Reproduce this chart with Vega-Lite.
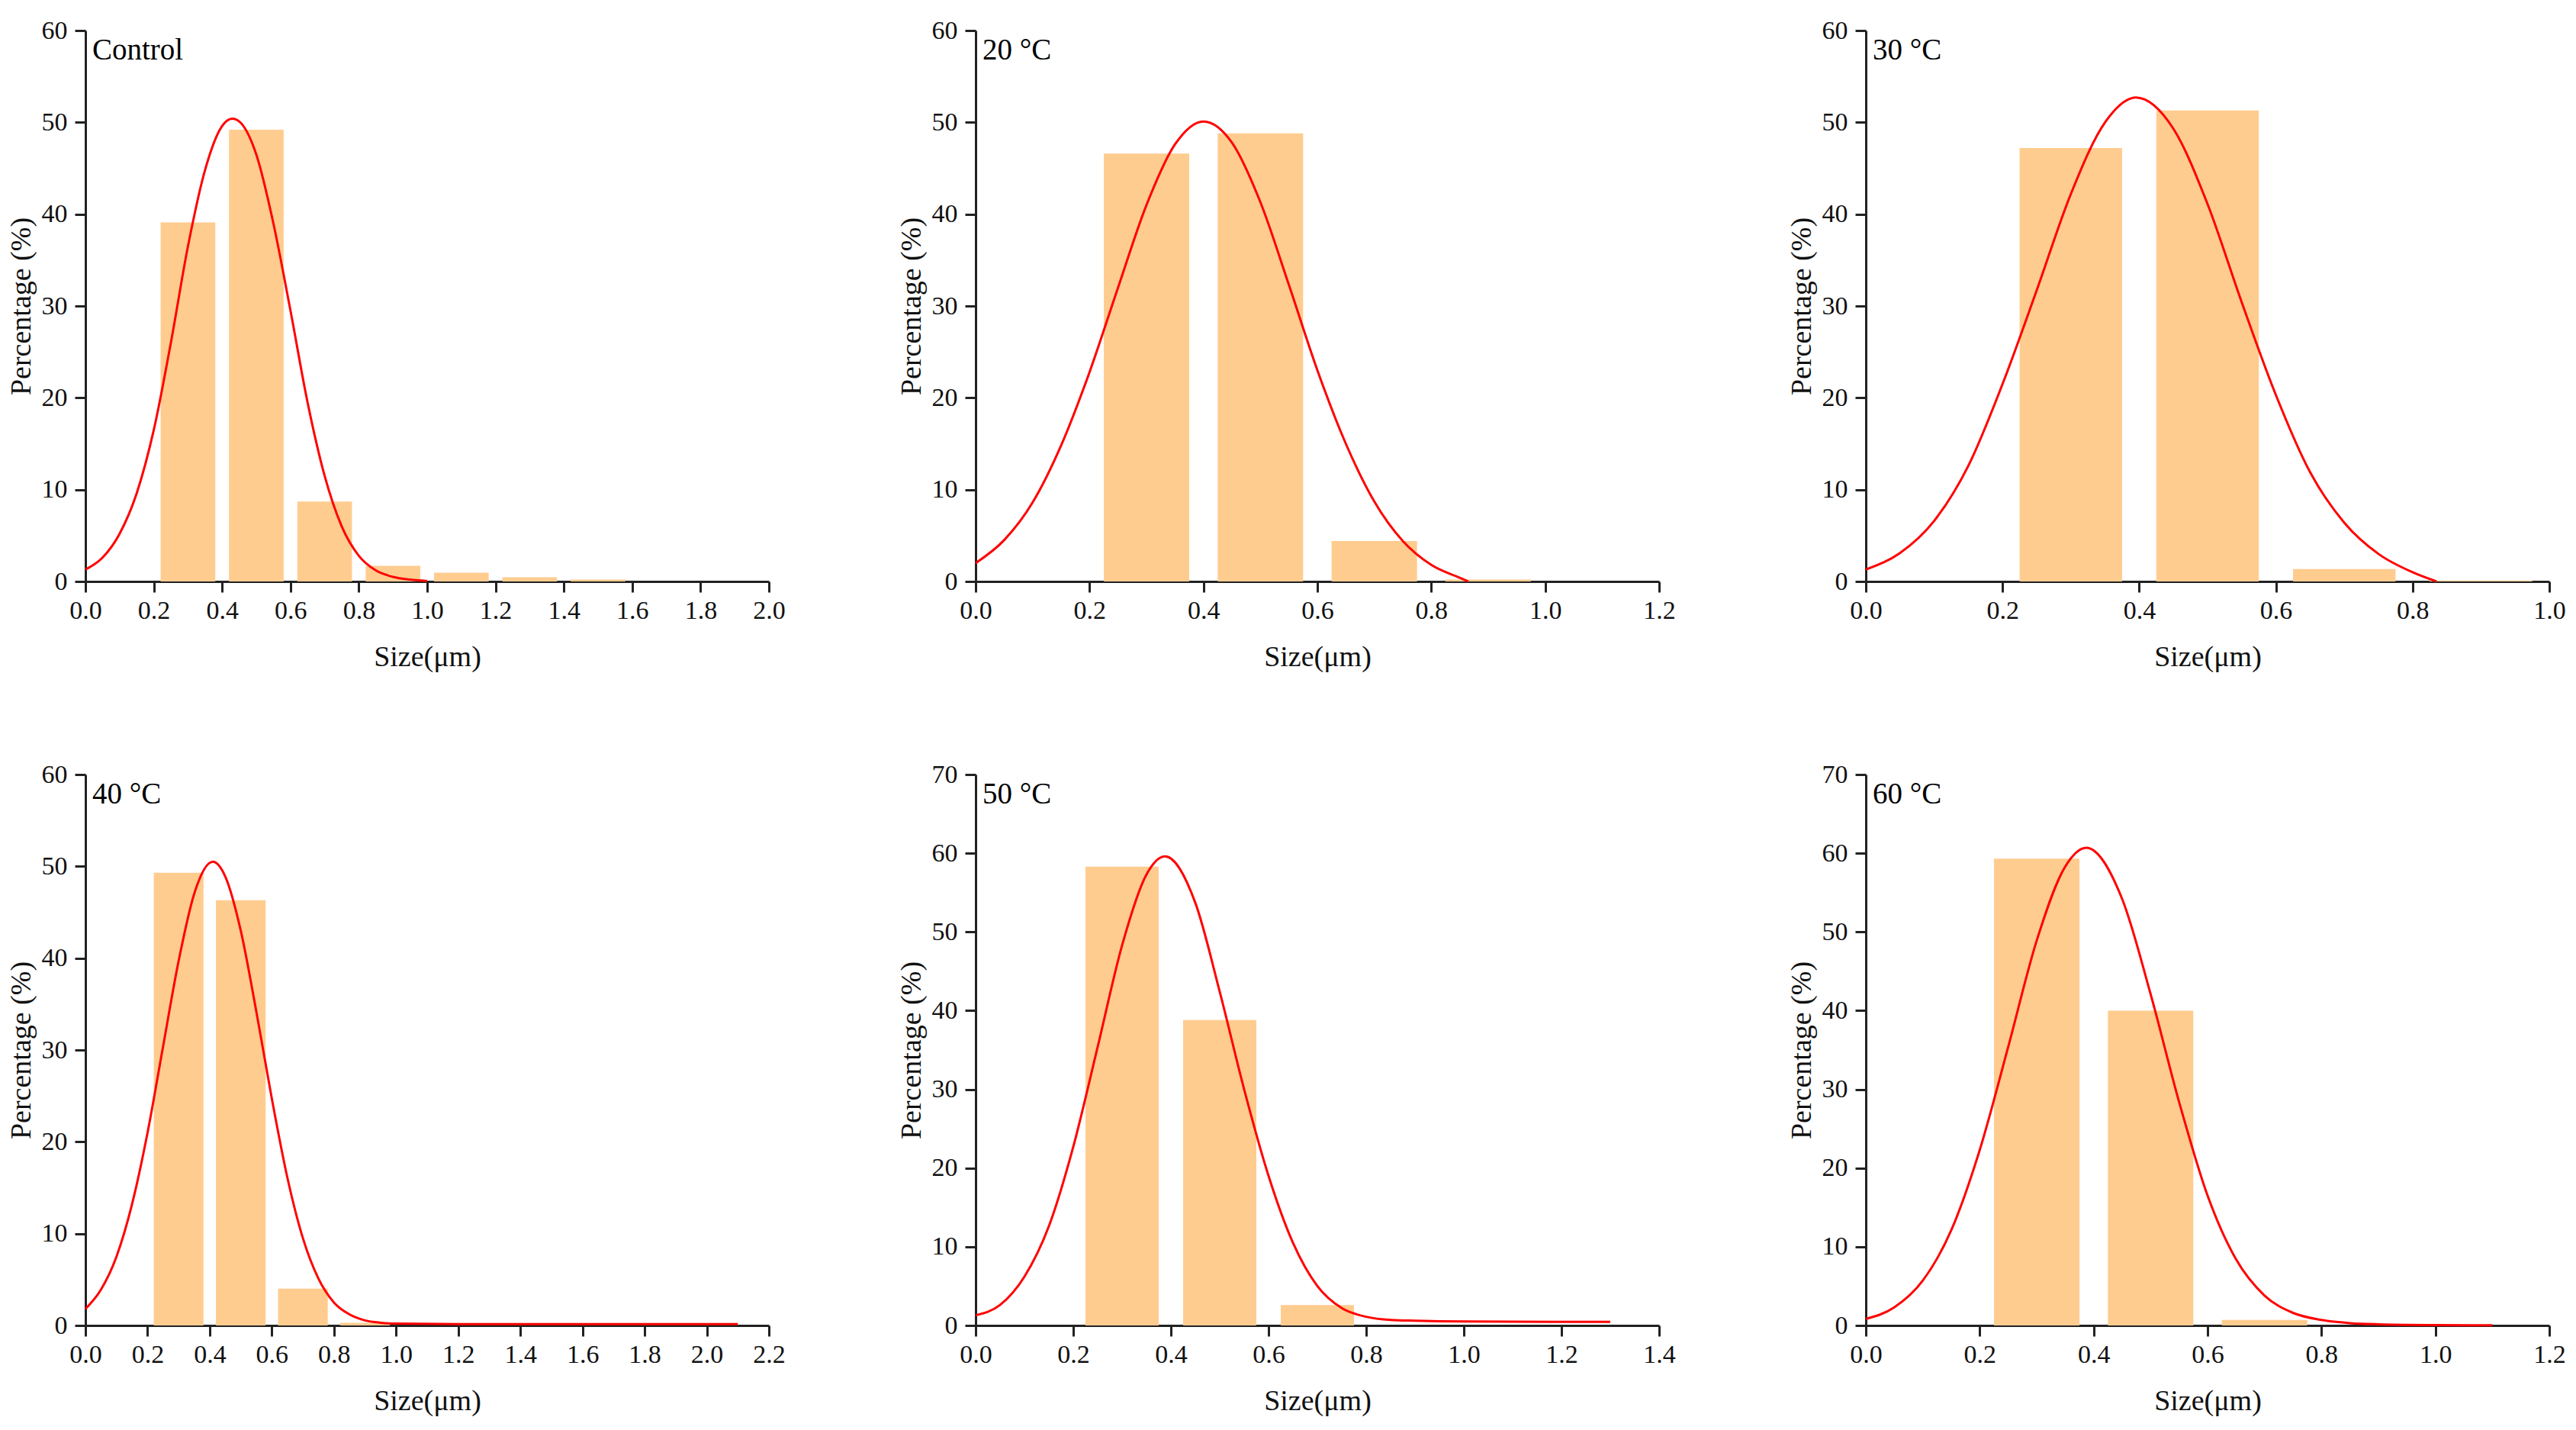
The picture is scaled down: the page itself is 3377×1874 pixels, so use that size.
{
  "$schema": "https://vega.github.io/schema/vega-lite/v6.json",
  "background": "white",
  "padding": {"left": 9, "top": 23, "right": 5, "bottom": 5},
  "datasets": {
    "bars": [
      {"panel": "Control", "x0": 0.22, "x1": 0.38, "pct": 39.1},
      {"panel": "Control", "x0": 0.42, "x1": 0.58, "pct": 49.2},
      {"panel": "Control", "x0": 0.62, "x1": 0.78, "pct": 8.7},
      {"panel": "Control", "x0": 0.82, "x1": 0.98, "pct": 1.7},
      {"panel": "Control", "x0": 1.02, "x1": 1.18, "pct": 0.95},
      {"panel": "Control", "x0": 1.22, "x1": 1.38, "pct": 0.45},
      {"panel": "Control", "x0": 1.42, "x1": 1.58, "pct": 0.2},
      {"panel": "20", "x0": 0.225, "x1": 0.375, "pct": 46.6},
      {"panel": "20", "x0": 0.425, "x1": 0.575, "pct": 48.8},
      {"panel": "20", "x0": 0.625, "x1": 0.775, "pct": 4.4},
      {"panel": "20", "x0": 0.825, "x1": 0.975, "pct": 0.2},
      {"panel": "30", "x0": 0.225, "x1": 0.375, "pct": 47.2},
      {"panel": "30", "x0": 0.425, "x1": 0.575, "pct": 51.3},
      {"panel": "30", "x0": 0.625, "x1": 0.775, "pct": 1.35},
      {"panel": "30", "x0": 0.825, "x1": 0.975, "pct": 0.1},
      {"panel": "40", "x0": 0.22, "x1": 0.38, "pct": 49.3},
      {"panel": "40", "x0": 0.42, "x1": 0.58, "pct": 46.3},
      {"panel": "40", "x0": 0.62, "x1": 0.78, "pct": 4.0},
      {"panel": "40", "x0": 0.82, "x1": 0.98, "pct": 0.3},
      {"panel": "50", "x0": 0.225, "x1": 0.375, "pct": 58.3},
      {"panel": "50", "x0": 0.425, "x1": 0.575, "pct": 38.8},
      {"panel": "50", "x0": 0.625, "x1": 0.775, "pct": 2.6},
      {"panel": "60", "x0": 0.225, "x1": 0.375, "pct": 59.3},
      {"panel": "60", "x0": 0.425, "x1": 0.575, "pct": 40.0},
      {"panel": "60", "x0": 0.625, "x1": 0.775, "pct": 0.7}
    ],
    "fit": [
      {"panel": "Control", "size": 0, "pct": 1.3},
      {"panel": "Control", "size": 0.05, "pct": 2.6},
      {"panel": "Control", "size": 0.1, "pct": 5.2},
      {"panel": "Control", "size": 0.15, "pct": 9.6},
      {"panel": "Control", "size": 0.2, "pct": 16.5},
      {"panel": "Control", "size": 0.25, "pct": 26},
      {"panel": "Control", "size": 0.3, "pct": 36.5},
      {"panel": "Control", "size": 0.35, "pct": 44.8},
      {"panel": "Control", "size": 0.4, "pct": 49.6},
      {"panel": "Control", "size": 0.43, "pct": 50.4},
      {"panel": "Control", "size": 0.45, "pct": 50.1},
      {"panel": "Control", "size": 0.5, "pct": 46.5},
      {"panel": "Control", "size": 0.55, "pct": 39},
      {"panel": "Control", "size": 0.6, "pct": 29.5},
      {"panel": "Control", "size": 0.65, "pct": 19.5},
      {"panel": "Control", "size": 0.7, "pct": 11.5},
      {"panel": "Control", "size": 0.75, "pct": 6},
      {"panel": "Control", "size": 0.8, "pct": 2.8},
      {"panel": "Control", "size": 0.85, "pct": 1.2},
      {"panel": "Control", "size": 0.9, "pct": 0.5},
      {"panel": "Control", "size": 0.95, "pct": 0.2},
      {"panel": "Control", "size": 1.0, "pct": 0.05},
      {"panel": "20", "size": 0, "pct": 2.0},
      {"panel": "20", "size": 0.05, "pct": 4.5},
      {"panel": "20", "size": 0.1, "pct": 8.6},
      {"panel": "20", "size": 0.15, "pct": 14.8},
      {"panel": "20", "size": 0.2, "pct": 22.8},
      {"panel": "20", "size": 0.25, "pct": 32},
      {"panel": "20", "size": 0.3, "pct": 41},
      {"panel": "20", "size": 0.35, "pct": 47.6},
      {"panel": "20", "size": 0.4, "pct": 50.1},
      {"panel": "20", "size": 0.45, "pct": 47.8},
      {"panel": "20", "size": 0.5, "pct": 41.3},
      {"panel": "20", "size": 0.55, "pct": 32.3},
      {"panel": "20", "size": 0.6, "pct": 23},
      {"panel": "20", "size": 0.65, "pct": 15},
      {"panel": "20", "size": 0.7, "pct": 8.7},
      {"panel": "20", "size": 0.75, "pct": 4.4},
      {"panel": "20", "size": 0.8, "pct": 1.8},
      {"panel": "20", "size": 0.85, "pct": 0.4},
      {"panel": "20", "size": 0.865, "pct": 0},
      {"panel": "30", "size": 0, "pct": 1.3},
      {"panel": "30", "size": 0.05, "pct": 3.1},
      {"panel": "30", "size": 0.1, "pct": 6.6},
      {"panel": "30", "size": 0.15, "pct": 12.6},
      {"panel": "30", "size": 0.2, "pct": 21.5},
      {"panel": "30", "size": 0.25, "pct": 31.7},
      {"panel": "30", "size": 0.3, "pct": 42.2},
      {"panel": "30", "size": 0.35, "pct": 50},
      {"panel": "30", "size": 0.395, "pct": 52.7},
      {"panel": "30", "size": 0.45, "pct": 49.3},
      {"panel": "30", "size": 0.5, "pct": 41.1},
      {"panel": "30", "size": 0.55, "pct": 30.4},
      {"panel": "30", "size": 0.6, "pct": 20.3},
      {"panel": "30", "size": 0.65, "pct": 11.9},
      {"panel": "30", "size": 0.7, "pct": 6.4},
      {"panel": "30", "size": 0.75, "pct": 3.0},
      {"panel": "30", "size": 0.8, "pct": 1.0},
      {"panel": "30", "size": 0.835, "pct": 0},
      {"panel": "40", "size": 0, "pct": 1.8},
      {"panel": "40", "size": 0.05, "pct": 3.9},
      {"panel": "40", "size": 0.1, "pct": 7.5},
      {"panel": "40", "size": 0.15, "pct": 13.2},
      {"panel": "40", "size": 0.2, "pct": 21},
      {"panel": "40", "size": 0.25, "pct": 30.4},
      {"panel": "40", "size": 0.3, "pct": 39.7},
      {"panel": "40", "size": 0.35, "pct": 47},
      {"panel": "40", "size": 0.41, "pct": 50.5},
      {"panel": "40", "size": 0.45, "pct": 48.9},
      {"panel": "40", "size": 0.5, "pct": 43},
      {"panel": "40", "size": 0.55, "pct": 34.2},
      {"panel": "40", "size": 0.6, "pct": 24.7},
      {"panel": "40", "size": 0.65, "pct": 16.1},
      {"panel": "40", "size": 0.7, "pct": 9.5},
      {"panel": "40", "size": 0.75, "pct": 5.1},
      {"panel": "40", "size": 0.8, "pct": 2.5},
      {"panel": "40", "size": 0.85, "pct": 1.2},
      {"panel": "40", "size": 0.9, "pct": 0.55},
      {"panel": "40", "size": 0.95, "pct": 0.3},
      {"panel": "40", "size": 1.0, "pct": 0.2},
      {"panel": "40", "size": 1.2, "pct": 0.15},
      {"panel": "40", "size": 1.6, "pct": 0.15},
      {"panel": "40", "size": 2.1, "pct": 0.15},
      {"panel": "50", "size": 0, "pct": 1.3},
      {"panel": "50", "size": 0.05, "pct": 2.6},
      {"panel": "50", "size": 0.1, "pct": 6.2},
      {"panel": "50", "size": 0.15, "pct": 12.6},
      {"panel": "50", "size": 0.2, "pct": 22.7},
      {"panel": "50", "size": 0.25, "pct": 35.4},
      {"panel": "50", "size": 0.3, "pct": 48.3},
      {"panel": "50", "size": 0.35, "pct": 57.3},
      {"panel": "50", "size": 0.388, "pct": 59.6},
      {"panel": "50", "size": 0.45, "pct": 53.7},
      {"panel": "50", "size": 0.5, "pct": 42.4},
      {"panel": "50", "size": 0.55, "pct": 30},
      {"panel": "50", "size": 0.6, "pct": 19},
      {"panel": "50", "size": 0.65, "pct": 10.5},
      {"panel": "50", "size": 0.7, "pct": 5},
      {"panel": "50", "size": 0.75, "pct": 2.2},
      {"panel": "50", "size": 0.8, "pct": 1.1},
      {"panel": "50", "size": 0.85, "pct": 0.7},
      {"panel": "50", "size": 0.9, "pct": 0.6},
      {"panel": "50", "size": 1.0, "pct": 0.5},
      {"panel": "50", "size": 1.3, "pct": 0.45},
      {"panel": "60", "size": 0, "pct": 0.83},
      {"panel": "60", "size": 0.05, "pct": 2.3},
      {"panel": "60", "size": 0.1, "pct": 5.7},
      {"panel": "60", "size": 0.15, "pct": 12.1},
      {"panel": "60", "size": 0.2, "pct": 22.3},
      {"panel": "60", "size": 0.25, "pct": 35.4},
      {"panel": "60", "size": 0.3, "pct": 48.9},
      {"panel": "60", "size": 0.35, "pct": 58.3},
      {"panel": "60", "size": 0.387, "pct": 60.7},
      {"panel": "60", "size": 0.45, "pct": 54.2},
      {"panel": "60", "size": 0.5, "pct": 42.1},
      {"panel": "60", "size": 0.55, "pct": 28.4},
      {"panel": "60", "size": 0.6, "pct": 16.5},
      {"panel": "60", "size": 0.65, "pct": 8.4},
      {"panel": "60", "size": 0.7, "pct": 3.8},
      {"panel": "60", "size": 0.75, "pct": 1.6},
      {"panel": "60", "size": 0.8, "pct": 0.7},
      {"panel": "60", "size": 0.85, "pct": 0.3},
      {"panel": "60", "size": 0.9, "pct": 0.15},
      {"panel": "60", "size": 1.0, "pct": 0.05},
      {"panel": "60", "size": 1.1, "pct": 0.02}
    ]
  },
  "columns": 3,
  "bounds": "flush",
  "spacing": {"row": 253, "column": 271},
  "concat": [
    {
      "width": 896, "height": 722,
      "title": {"text": "Control"},
      "layer": [
        {"data": {"name": "bars"}, "transform": [{"filter": "datum.panel == 'Control'"}],
         "mark": {"type": "rect", "color": "#FFCC8F"},
         "encoding": {
           "x": {"field": "x0", "type": "quantitative", "scale": {"domain": [0, 2.0], "nice": false}, "title": "Size(μm)", "axis": {"values": [0, 0.2, 0.4, 0.6, 0.8, 1.0, 1.2, 1.4, 1.6, 1.8, 2.0], "format": ".1f"}},
           "x2": {"field": "x1"},
           "y": {"field": "pct", "type": "quantitative", "scale": {"domain": [0, 60], "nice": false}, "title": "Percentage (%)", "axis": {"values": [0, 10, 20, 30, 40, 50, 60]}},
           "y2": {"datum": 0}
         }},
        {"data": {"name": "fit"}, "transform": [{"filter": "datum.panel == 'Control'"}],
         "mark": {"type": "line", "color": "#FF0000", "strokeWidth": 3, "interpolate": "monotone"},
         "encoding": {"x": {"field": "size", "type": "quantitative"}, "y": {"field": "pct", "type": "quantitative"}}}
      ]
    },
    {
      "width": 896, "height": 722,
      "title": {"text": "20 °C"},
      "layer": [
        {"data": {"name": "bars"}, "transform": [{"filter": "datum.panel == '20'"}],
         "mark": {"type": "rect", "color": "#FFCC8F"},
         "encoding": {
           "x": {"field": "x0", "type": "quantitative", "scale": {"domain": [0, 1.2], "nice": false}, "title": "Size(μm)", "axis": {"values": [0, 0.2, 0.4, 0.6, 0.8, 1.0, 1.2], "format": ".1f"}},
           "x2": {"field": "x1"},
           "y": {"field": "pct", "type": "quantitative", "scale": {"domain": [0, 60], "nice": false}, "title": "Percentage (%)", "axis": {"values": [0, 10, 20, 30, 40, 50, 60]}},
           "y2": {"datum": 0}
         }},
        {"data": {"name": "fit"}, "transform": [{"filter": "datum.panel == '20'"}],
         "mark": {"type": "line", "color": "#FF0000", "strokeWidth": 3, "interpolate": "monotone"},
         "encoding": {"x": {"field": "size", "type": "quantitative"}, "y": {"field": "pct", "type": "quantitative"}}}
      ]
    },
    {
      "width": 896, "height": 722,
      "title": {"text": "30 °C"},
      "layer": [
        {"data": {"name": "bars"}, "transform": [{"filter": "datum.panel == '30'"}],
         "mark": {"type": "rect", "color": "#FFCC8F"},
         "encoding": {
           "x": {"field": "x0", "type": "quantitative", "scale": {"domain": [0, 1.0], "nice": false}, "title": "Size(μm)", "axis": {"values": [0, 0.2, 0.4, 0.6, 0.8, 1.0], "format": ".1f"}},
           "x2": {"field": "x1"},
           "y": {"field": "pct", "type": "quantitative", "scale": {"domain": [0, 60], "nice": false}, "title": "Percentage (%)", "axis": {"values": [0, 10, 20, 30, 40, 50, 60]}},
           "y2": {"datum": 0}
         }},
        {"data": {"name": "fit"}, "transform": [{"filter": "datum.panel == '30'"}],
         "mark": {"type": "line", "color": "#FF0000", "strokeWidth": 3, "interpolate": "monotone"},
         "encoding": {"x": {"field": "size", "type": "quantitative"}, "y": {"field": "pct", "type": "quantitative"}}}
      ]
    },
    {
      "width": 896, "height": 722,
      "title": {"text": "40 °C"},
      "layer": [
        {"data": {"name": "bars"}, "transform": [{"filter": "datum.panel == '40'"}],
         "mark": {"type": "rect", "color": "#FFCC8F"},
         "encoding": {
           "x": {"field": "x0", "type": "quantitative", "scale": {"domain": [0, 2.2], "nice": false}, "title": "Size(μm)", "axis": {"values": [0, 0.2, 0.4, 0.6, 0.8, 1.0, 1.2, 1.4, 1.6, 1.8, 2.0, 2.2], "format": ".1f"}},
           "x2": {"field": "x1"},
           "y": {"field": "pct", "type": "quantitative", "scale": {"domain": [0, 60], "nice": false}, "title": "Percentage (%)", "axis": {"values": [0, 10, 20, 30, 40, 50, 60]}},
           "y2": {"datum": 0}
         }},
        {"data": {"name": "fit"}, "transform": [{"filter": "datum.panel == '40'"}],
         "mark": {"type": "line", "color": "#FF0000", "strokeWidth": 3, "interpolate": "monotone"},
         "encoding": {"x": {"field": "size", "type": "quantitative"}, "y": {"field": "pct", "type": "quantitative"}}}
      ]
    },
    {
      "width": 896, "height": 722,
      "title": {"text": "50 °C"},
      "layer": [
        {"data": {"name": "bars"}, "transform": [{"filter": "datum.panel == '50'"}],
         "mark": {"type": "rect", "color": "#FFCC8F"},
         "encoding": {
           "x": {"field": "x0", "type": "quantitative", "scale": {"domain": [0, 1.4], "nice": false}, "title": "Size(μm)", "axis": {"values": [0, 0.2, 0.4, 0.6, 0.8, 1.0, 1.2, 1.4], "format": ".1f"}},
           "x2": {"field": "x1"},
           "y": {"field": "pct", "type": "quantitative", "scale": {"domain": [0, 70], "nice": false}, "title": "Percentage (%)", "axis": {"values": [0, 10, 20, 30, 40, 50, 60, 70]}},
           "y2": {"datum": 0}
         }},
        {"data": {"name": "fit"}, "transform": [{"filter": "datum.panel == '50'"}],
         "mark": {"type": "line", "color": "#FF0000", "strokeWidth": 3, "interpolate": "monotone"},
         "encoding": {"x": {"field": "size", "type": "quantitative"}, "y": {"field": "pct", "type": "quantitative"}}}
      ]
    },
    {
      "width": 896, "height": 722,
      "title": {"text": "60 °C"},
      "layer": [
        {"data": {"name": "bars"}, "transform": [{"filter": "datum.panel == '60'"}],
         "mark": {"type": "rect", "color": "#FFCC8F"},
         "encoding": {
           "x": {"field": "x0", "type": "quantitative", "scale": {"domain": [0, 1.2], "nice": false}, "title": "Size(μm)", "axis": {"values": [0, 0.2, 0.4, 0.6, 0.8, 1.0, 1.2], "format": ".1f"}},
           "x2": {"field": "x1"},
           "y": {"field": "pct", "type": "quantitative", "scale": {"domain": [0, 70], "nice": false}, "title": "Percentage (%)", "axis": {"values": [0, 10, 20, 30, 40, 50, 60, 70]}},
           "y2": {"datum": 0}
         }},
        {"data": {"name": "fit"}, "transform": [{"filter": "datum.panel == '60'"}],
         "mark": {"type": "line", "color": "#FF0000", "strokeWidth": 3, "interpolate": "monotone"},
         "encoding": {"x": {"field": "size", "type": "quantitative"}, "y": {"field": "pct", "type": "quantitative"}}}
      ]
    }
  ],
  "config": {
    "view": {"stroke": null},
    "font": "Liberation Serif",
    "title": {"font": "Liberation Serif", "fontSize": 39, "fontWeight": "normal", "color": "#000000", "anchor": "start", "frame": "group", "baseline": "alphabetic", "offset": -63, "dx": 9},
    "axis": {
      "grid": false,
      "domainColor": "#222222", "domainWidth": 3,
      "tickColor": "#222222", "tickWidth": 3, "tickSize": 14,
      "labelFont": "Liberation Serif", "labelFontSize": 34, "labelColor": "#111111",
      "titleFont": "Liberation Serif", "titleFontSize": 38, "titleFontWeight": "normal", "titleColor": "#111111",
      "labelFlush": false, "labelOverlap": false
    },
    "axisX": {"labelPadding": 7, "titlePadding": 25},
    "axisY": {"labelPadding": 10, "titlePadding": 7}
  }
}
